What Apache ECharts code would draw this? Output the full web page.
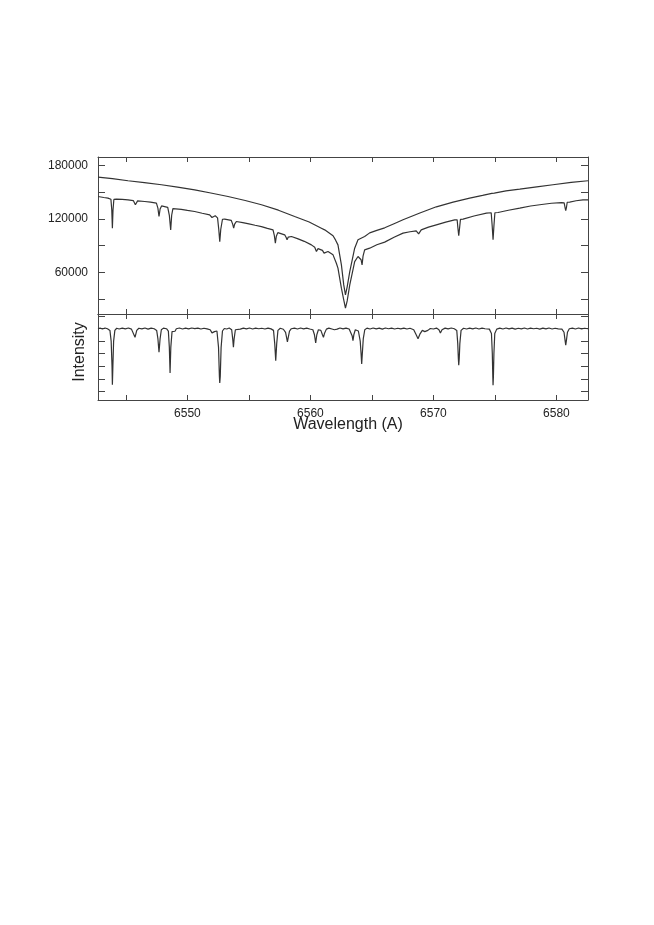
<!DOCTYPE html>
<html>
<head>
<meta charset="utf-8">
<script src="https://cdn.jsdelivr.net/npm/echarts@6/dist/echarts.min.js"></script>
<style>
	html,body{margin:0;padding:0;background:#fff;}
	#main{width:654px;height:925px;}
</style>
</head>
<body>
<div id="main"></div>
<script>
/**
 * wavelength axis (A)
 */
var waveMin = 6542.73;
var waveMax = 6582.57;
var waveTicks = [6545, 6550, 6555, 6560, 6565, 6570, 6575, 6580];
var waveLabels = [6550, 6560, 6570, 6580];

/**
 * top panel: counts
 */
var fluxTicks = [30000, 60000, 90000, 120000, 150000, 180000];
var fluxLabels = [60000, 120000, 180000];

/**
 * bottom panel: normalised intensity, no labels
 */
var intTicks = [0.5, 0.6, 0.7, 0.8, 0.9, 1.0, 1.1];

// upper spectrum [wavelength, counts]
var topUpper = [
	[6542.73,166900],[6543.9,165200],[6545.17,162800],[6546.5,160600],[6547.89,158300],
	[6549.2,155600],[6550.59,152600],[6551.9,149000],[6553.30,145100],[6554.7,140600],
	[6556.02,135800],[6557.4,129700],[6558.72,122600],[6559.9,116400],[6560.89,109500],
	[6561.16,107600],[6561.5,104300],[6561.84,100900],[6562.05,96000],[6562.24,90700],
	[6562.52,68200],[6562.71,45700],[6562.85,34400],[6562.99,43500],[6563.20,60700],
	[6563.60,87000],[6563.87,96400],[6564.41,100100],[6564.82,104200],[6565.4,107000],
	[6566.04,109900],[6566.8,114500],[6567.53,118900],[6568.9,126500],[6570.24,133500],
	[6571.6,138800],[6572.95,143300],[6574.0,146300],[6574.75,148700],[6574.85,150300],
	[6574.95,148900],[6575.9,151400],[6577.02,153400],[6578.4,156000],[6579.72,158300],
	[6581.2,160900],[6582.57,162800]
];

// lower spectrum [wavelength, counts]
var topLower = [
	[6542.73,145100],[6543.2,144000],[6543.54,143300],[6543.78,142000],[6543.85,130000],
	[6543.90,109500],[6543.95,130000],[6544.02,141800],[6544.23,142200],[6544.7,141800],
	[6545.17,141400],[6545.6,140500],[6545.77,135800],[6545.95,140200],[6546.53,139500],
	[6547.0,138700],[6547.48,137700],[6547.6,132000],[6547.69,122600],[6547.78,131000],
	[6547.9,134500],[6548.02,133800],[6548.40,132900],[6548.53,124000],[6548.64,107600],
	[6548.72,124000],[6548.82,131500],[6548.97,132000],[6549.5,130700],[6550.0,129400],
	[6550.59,128200],[6551.2,126300],[6551.81,124500],[6552.00,121500],[6552.15,123600],
	[6552.26,123400],[6552.45,121000],[6552.55,108000],[6552.63,94400],[6552.71,108000],
	[6552.85,119500],[6553.03,119700],[6553.56,118300],[6553.68,114000],[6553.76,109500],
	[6553.84,114000],[6553.98,117000],[6554.5,115800],[6555.0,114300],[6555.5,112800],
	[6556.02,111300],[6556.5,109200],[6556.96,107600],[6557.07,101000],[6557.15,92600],
	[6557.23,100500],[6557.35,104500],[6557.50,103900],[6557.91,102000],[6558.03,99000],
	[6558.10,96400],[6558.2,99500],[6558.46,100100],[6559.0,97500],[6559.5,94700],
	[6560.08,90700],[6560.35,88000],[6560.49,83200],[6560.62,86500],[6560.76,85900],
	[6560.98,84500],[6561.11,81400],[6561.25,83000],[6561.43,83200],[6561.84,79500],
	[6562.11,70100],[6562.24,64500],[6562.52,42000],[6562.71,28800],[6562.85,19500],
	[6562.99,27700],[6563.20,45700],[6563.60,71900],[6563.87,77600],[6564.03,78300],
	[6564.12,74000],[6564.20,68200],[6564.28,78000],[6564.41,85100],[6564.82,87000],
	[6565.4,90800],[6566.04,93800],[6566.8,99200],[6567.53,103900],[6568.1,105500],
	[6568.60,106500],[6568.8,103100],[6569.01,107600],[6569.6,110600],[6570.24,113200],
	[6571.0,116200],[6571.73,118900],[6571.93,118900],[6571.99,110000],[6572.06,100900],
	[6572.13,110000],[6572.20,119400],[6572.41,119700],[6573.3,123200],[6574.31,126400],
	[6574.70,126800],[6574.78,112000],[6574.85,96400],[6574.92,112000],[6575.00,126800],
	[6575.25,127100],[6576.1,129600],[6577.02,132000],[6577.9,134400],[6578.8,136100],
	[6579.6,137500],[6580.41,138300],[6580.63,138000],[6580.70,133000],[6580.76,129300],
	[6580.82,133000],[6580.88,138600],[6581.08,138800],[6581.6,140300],[6582.16,141400],
	[6582.57,141400]
];

// ratio spectrum [wavelength, intensity]
var residual = [
	[6542.73,0.998],[6542.9,1.003],[6543.1,0.996],[6543.3,1.004],[6543.5,0.998],
	[6543.7,0.985],[6543.8,0.90],[6543.87,0.70],[6543.90,0.554],[6543.94,0.70],
	[6544.0,0.90],[6544.1,0.985],[6544.25,1.002],[6544.45,0.996],[6544.7,1.003],
	[6544.95,0.997],[6545.2,1.004],[6545.45,0.995],[6545.6,0.985],[6545.74,0.930],
	[6545.88,0.985],[6546.05,1.002],[6546.3,0.997],[6546.55,1.004],[6546.8,0.995],
	[6547.05,1.003],[6547.3,0.998],[6547.5,0.985],[6547.6,0.92],[6547.69,0.811],
	[6547.78,0.92],[6547.88,0.99],[6548.05,1.003],[6548.3,0.998],[6548.45,0.98],
	[6548.53,0.85],[6548.59,0.647],[6548.65,0.85],[6548.75,0.975],[6548.9,0.99],
	[6548.99,0.978],[6549.1,0.998],[6549.35,1.004],[6549.6,0.996],[6549.85,1.003],
	[6550.1,0.997],[6550.35,1.004],[6550.6,0.999],[6550.85,1.003],[6551.1,0.996],
	[6551.35,1.002],[6551.6,0.997],[6551.85,0.99],[6552.0,0.965],[6552.08,0.956],
	[6552.2,0.975],[6552.4,0.98],[6552.53,0.85],[6552.6,0.62],[6552.63,0.567],
	[6552.67,0.62],[6552.74,0.85],[6552.85,0.98],[6553.0,1.0],[6553.2,0.996],
	[6553.4,1.004],[6553.6,0.99],[6553.68,0.92],[6553.74,0.851],[6553.8,0.92],
	[6553.9,0.99],[6554.05,1.002],[6554.3,0.995],[6554.55,1.003],[6554.8,0.997],
	[6555.05,1.004],[6555.3,0.996],[6555.55,1.003],[6555.8,0.998],[6556.05,1.002],
	[6556.3,0.996],[6556.55,1.003],[6556.8,0.997],[6557.0,0.985],[6557.1,0.88],
	[6557.18,0.744],[6557.26,0.88],[6557.36,0.985],[6557.55,1.002],[6557.8,0.994],
	[6557.98,0.97],[6558.06,0.93],[6558.13,0.893],[6558.2,0.93],[6558.3,0.98],
	[6558.45,0.998],[6558.7,1.003],[6558.95,0.996],[6559.2,1.004],[6559.45,0.997],
	[6559.7,1.003],[6559.95,0.996],[6560.2,0.99],[6560.33,0.95],[6560.43,0.885],
	[6560.52,0.95],[6560.65,0.99],[6560.85,0.985],[6560.98,0.95],[6561.06,0.930],
	[6561.14,0.96],[6561.3,0.995],[6561.5,1.003],[6561.75,0.996],[6561.95,0.99],
	[6562.06,0.975],[6562.18,0.995],[6562.4,1.004],[6562.65,0.997],[6562.9,1.003],
	[6563.15,0.996],[6563.3,0.985],[6563.4,0.94],[6563.46,0.903],[6563.53,0.95],
	[6563.65,0.99],[6563.9,0.98],[6564.05,0.90],[6564.12,0.80],[6564.17,0.718],
	[6564.22,0.80],[6564.3,0.92],[6564.42,0.99],[6564.6,1.003],[6564.85,0.996],
	[6565.1,1.004],[6565.35,0.997],[6565.6,1.003],[6565.85,0.995],[6566.1,1.004],
	[6566.35,0.998],[6566.6,1.003],[6566.85,0.996],[6567.1,1.002],[6567.35,0.997],
	[6567.6,1.003],[6567.85,0.996],[6568.1,1.002],[6568.4,0.99],[6568.6,0.95],
	[6568.75,0.919],[6568.9,0.955],[6569.1,0.985],[6569.3,0.975],[6569.43,0.964],
	[6569.55,0.985],[6569.75,1.0],[6570.0,0.996],[6570.25,1.003],[6570.45,0.99],
	[6570.57,0.964],[6570.7,0.99],[6570.95,1.003],[6571.2,0.997],[6571.45,1.004],
	[6571.7,0.998],[6571.9,0.985],[6571.98,0.88],[6572.03,0.76],[6572.06,0.708],
	[6572.1,0.76],[6572.15,0.88],[6572.25,0.985],[6572.45,1.002],[6572.7,0.996],
	[6572.95,1.003],[6573.2,0.997],[6573.45,1.004],[6573.7,0.996],[6573.95,1.003],
	[6574.2,0.998],[6574.55,0.995],[6574.72,0.96],[6574.79,0.80],[6574.83,0.62],
	[6574.85,0.549],[6574.88,0.62],[6574.92,0.80],[6574.99,0.96],[6575.15,0.995],
	[6575.4,1.003],[6575.65,0.996],[6575.9,1.004],[6576.15,0.997],[6576.4,1.003],
	[6576.65,0.995],[6576.9,1.002],[6577.15,0.997],[6577.4,1.004],[6577.65,0.996],
	[6577.9,1.003],[6578.15,0.998],[6578.4,1.002],[6578.65,0.995],[6578.9,1.003],
	[6579.15,0.997],[6579.4,1.004],[6579.65,0.996],[6579.9,1.002],[6580.15,0.997],
	[6580.45,0.995],[6580.62,0.97],[6580.7,0.91],[6580.76,0.867],[6580.82,0.91],
	[6580.9,0.97],[6581.05,0.998],[6581.3,1.003],[6581.55,0.996],[6581.8,1.004],
	[6582.05,0.997],[6582.3,1.002],[6582.57,0.998]
];

var frameColor = '#444';
var lineColor = '#333';
var fontFamily = 'Liberation Sans, Arial, sans-serif';

// plain numbers, no thousands separator
function plain(v){
	return String(v);
}

function waveAxis(gridIndex, position, labels){
	return {
		type : 'value',
		gridIndex : gridIndex,
		position : position,
		min : waveMin,
		max : waveMax,
		axisLine : { show : true, onZero : false, lineStyle : { color : frameColor, width : 1 } },
		axisTick : { show : true, inside : true, length : 5, customValues : waveTicks,
			lineStyle : { color : frameColor } },
		axisLabel : { show : labels, customValues : waveLabels, margin : 8,
			fontSize : 12, color : '#222', fontFamily : fontFamily, formatter : plain },
		splitLine : { show : false }
	};
}

function valueAxis(gridIndex, position, min, max, ticks, labels){
	return {
		type : 'value',
		gridIndex : gridIndex,
		position : position,
		min : min,
		max : max,
		axisLine : { show : true, onZero : false, lineStyle : { color : frameColor, width : 1 } },
		axisTick : { show : true, inside : true, length : 7, customValues : ticks,
			lineStyle : { color : frameColor } },
		axisLabel : { show : !!labels, customValues : labels || ticks, margin : 10,
			fontSize : 12, color : '#222', fontFamily : fontFamily, formatter : plain },
		splitLine : { show : false }
	};
}

var myChart = echarts.init(document.getElementById('main'));
option = {
	animation : false,
	backgroundColor : '#fff',
	grid : [
		{ left : 98, top : 157, width : 490, height : 157 },
		{ left : 98, top : 314, width : 490, height : 86 }
	],
	xAxis : [
		waveAxis(0, 'bottom', false),
		waveAxis(0, 'top', false),
		waveAxis(1, 'bottom', true),
		waveAxis(1, 'top', false)
	],
	yAxis : [
		valueAxis(0, 'left', 13000, 189500, fluxTicks, fluxLabels),
		valueAxis(0, 'right', 13000, 189500, fluxTicks, null),
		valueAxis(1, 'left', 0.4325, 1.115, intTicks, null),
		valueAxis(1, 'right', 0.4325, 1.115, intTicks, null)
	],
	graphic : [
		{
			type : 'text',
			x : 80,
			y : 352,
			rotation : Math.PI / 2,
			style : { text : 'Intensity', fontSize : 16, fontFamily : fontFamily,
				fill : '#222', align : 'center', verticalAlign : 'middle' }
		},
		{
			type : 'text',
			x : 348,
			y : 425,
			style : { text : 'Wavelength (A)', fontSize : 16, fontFamily : fontFamily,
				fill : '#222', align : 'center', verticalAlign : 'middle' }
		}
	],
	series : [
		{
			type : 'line', xAxisIndex : 0, yAxisIndex : 0, data : topUpper,
			showSymbol : false, symbol : 'none',
			lineStyle : { color : lineColor, width : 1.2 }
		},
		{
			type : 'line', xAxisIndex : 0, yAxisIndex : 0, data : topLower,
			showSymbol : false, symbol : 'none',
			lineStyle : { color : lineColor, width : 1.2 }
		},
		{
			type : 'line', xAxisIndex : 2, yAxisIndex : 2, data : residual,
			showSymbol : false, symbol : 'none',
			lineStyle : { color : lineColor, width : 1.2 }
		}
	]
};
myChart.setOption(option);
</script>
</body>
</html>
